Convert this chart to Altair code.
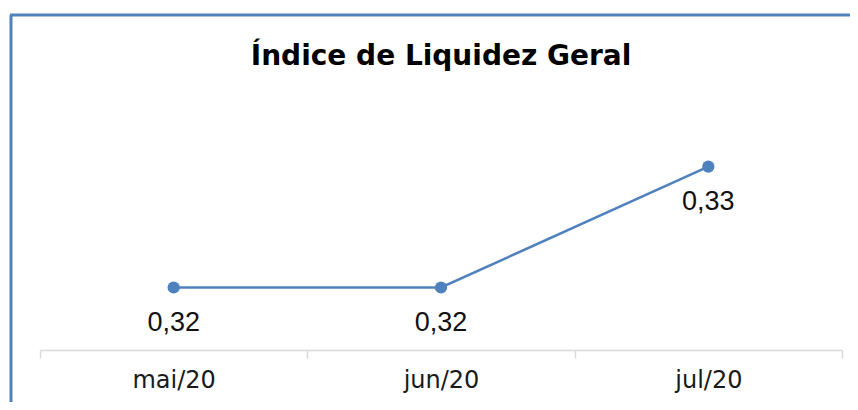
import altair as alt
import pandas as pd

months = ["mai/20", "jun/20", "jul/20"]
values = [0.322, 0.322, 0.3278]

df = pd.DataFrame({"mes": months, "valor": values})

BLUE = "#4F81BD"

x = alt.X("mes:N", sort=months, title=None,
          scale=alt.Scale(paddingInner=0, paddingOuter=0),
          axis=alt.Axis(labelAngle=0, domainColor="#d9d9d9", domainWidth=1.5,
                        tickColor="#d9d9d9", tickWidth=1.5, tickSize=8,
                        tickBand="extent", labelFont="DejaVu Sans",
                        labelFontSize=24, labelColor="#1a1a1a", labelPadding=10,
                        grid=False))
y = alt.Y("valor:Q", title=None,
          scale=alt.Scale(domain=[0.319, 0.331], zero=False, nice=False),
          axis=None)

base = alt.Chart(df).encode(x=x, y=y)

line = base.mark_line(color=BLUE, strokeWidth=2.5)
pts = base.mark_point(filled=True, color=BLUE, size=150, opacity=1)
labels = base.transform_calculate(
    lbl="replace(format(datum.valor, '.2f'), '.', ',')"
).mark_text(dy=35, font="Liberation Sans", fontSize=27, color="#111111").encode(
    text="lbl:N")

frame_df = pd.DataFrame({"k": [0]})
left_border = alt.Chart(frame_df).mark_rule(color=BLUE, strokeWidth=3, clip=False).encode(
    x=alt.value(-29), y=alt.value(-85), y2=alt.value(305))
top_border = alt.Chart(frame_df).mark_rule(color=BLUE, strokeWidth=3, clip=False).encode(
    x=alt.value(-30), x2=alt.value(820), y=alt.value(-85))

chart = alt.layer(line, pts, labels, left_border, top_border).properties(
    width=802, height=250,
    background="white",
    title=alt.TitleParams("Índice de Liquidez Geral", font="DejaVu Sans",
                          fontSize=28, fontWeight="bold", color="#000000",
                          anchor="middle", frame="group", offset=-57),
    padding={"left": 32, "top": 92, "right": 8, "bottom": 52},
    autosize=alt.AutoSizeParams(type="none"),
).configure_view(strokeWidth=0, stroke="transparent")

chart.save("out.html", embed_options={"renderer": "svg", "actions": False})
